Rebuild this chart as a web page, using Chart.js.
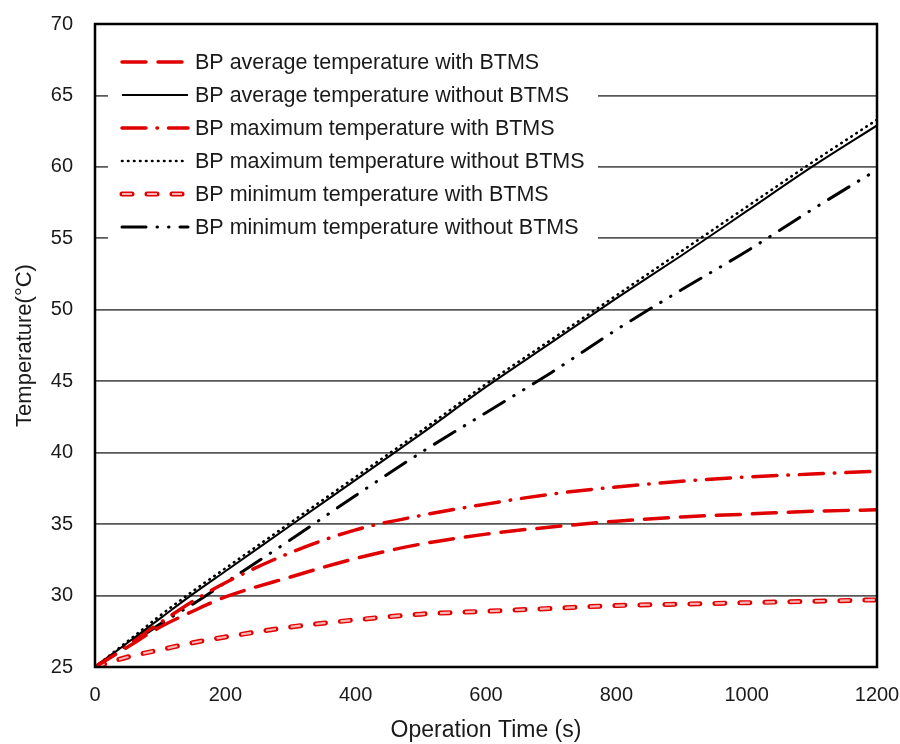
<!DOCTYPE html>
<html>
<head>
<meta charset="utf-8">
<title>Battery pack temperature</title>
<script src="https://cdn.jsdelivr.net/npm/chart.js@4.4.1/dist/chart.umd.min.js"></script>
<style>
  body { margin: 0; background: #fff; }
  #wrap { width: 900px; height: 744px; position: relative; }
</style>
</head>
<body>
<div id="wrap"><canvas id="tempChart"></canvas></div>
<script>
// operation time (s)
let times = [0, 50, 100, 150, 200, 300, 400, 500, 600, 700, 800, 900, 1000, 1100, 1200];

// temperatures (°C)
let avgWithBtms     = [25, 26.4, 27.8, 28.9, 29.9, 31.3, 32.6, 33.6, 34.3, 34.8, 35.2, 35.5, 35.7, 35.9, 36.0];
let avgWithoutBtms  = [25, 26.7, 28.4, 30.1, 31.7, 34.9, 38.1, 41.3, 44.6, 47.7, 50.8, 53.8, 56.9, 60.0, 62.9];
let maxWithBtms     = [25, 26.6, 28.1, 29.6, 30.9, 33.0, 34.6, 35.6, 36.4, 37.1, 37.6, 38.0, 38.3, 38.5, 38.7];
let maxWithoutBtms  = [25, 26.8, 28.6, 30.3, 31.9, 35.1, 38.3, 41.5, 44.8, 47.9, 51.0, 54.1, 57.2, 60.3, 63.3];
let minWithBtms     = [25, 25.7, 26.2, 26.7, 27.1, 27.8, 28.3, 28.7, 28.9, 29.1, 29.3, 29.4, 29.5, 29.6, 29.7];
let minWithoutBtms  = [25, 26.5, 28.0, 29.4, 30.9, 33.9, 37.0, 40.0, 42.8, 45.6, 48.6, 51.4, 54.1, 57.0, 59.8];

let seriesLabels = [
    "BP average temperature with BTMS",
    "BP average temperature without BTMS",
    "BP maximum temperature with BTMS",
    "BP maximum temperature without BTMS",
    "BP minimum temperature with BTMS",
    "BP minimum temperature without BTMS"
];

let xTicks = [0, 200, 400, 600, 800, 1000, 1200];
let yTicks = [25, 30, 35, 40, 45, 50, 55, 60, 65, 70];

const RED = "#e00000";
const PINK = "#f9b3b3";

function points(values) {
    return times.map((t, i) => ({ x: t, y: values[i] }));
}

// line styles, shared by the datasets and the legend
let styles = [
    { color: RED, width: 3.5, dash: [24, 12], cap: "round" },
    { color: "#000", width: 2, dash: [], cap: "butt" },
    { color: RED, width: 3.5, dash: [24, 11, 0.5, 11], cap: "round" },
    { color: "#000", width: 2.6, dash: [0.5, 5.5], cap: "round" },
    { color: RED, width: 5, dash: [10, 15], cap: "round", inner: PINK },
    { color: "#000", width: 3, dash: [24, 11, 0.5, 11, 0.5, 11], cap: "round" }
];
let seriesValues = [avgWithBtms, avgWithoutBtms, maxWithBtms, maxWithoutBtms, minWithBtms, minWithoutBtms];

function lineDataset(values, st, label) {
    return {
        label: label,
        data: points(values),
        borderColor: st.color,
        borderWidth: st.width,
        borderDash: st.dash,
        borderCapStyle: st.cap,
        pointRadius: 0,
        fill: false,
        cubicInterpolationMode: "monotone"
    };
}

let datasets = [];
seriesValues.forEach((values, i) => {
    let st = styles[i];
    if (st.inner) {
        // hollow dashes: pale core drawn over the red outline
        datasets.push(lineDataset(values, { color: st.inner, width: 2.2, dash: st.dash, cap: "butt" }, seriesLabels[i] + " core"));
    }
    datasets.push(lineDataset(values, st, seriesLabels[i]));
});

// frame around the plot area
const framePlugin = {
    id: "frame",
    afterDatasetsDraw(chart) {
        let a = chart.chartArea;
        let ctx = chart.ctx;
        ctx.save();
        ctx.strokeStyle = "#000";
        ctx.lineWidth = 2.5;
        ctx.strokeRect(a.left, a.top, a.right - a.left, a.bottom - a.top);
        ctx.restore();
    }
};

// legend box drawn inside the plot
const legendPlugin = {
    id: "insideLegend",
    afterDatasetsDraw(chart) {
        let ctx = chart.ctx;
        ctx.save();
        ctx.fillStyle = "#fff";
        ctx.fillRect(108, 30, 490, 218);
        let x0 = 122, x1 = 188, y = 62;
        ctx.font = "21.5px 'Liberation Sans', Arial, sans-serif";
        ctx.textBaseline = "middle";
        seriesLabels.forEach((label, i) => {
            let st = styles[i];
            ctx.beginPath();
            ctx.setLineDash(st.dash);
            ctx.lineCap = st.cap;
            ctx.strokeStyle = st.color;
            ctx.lineWidth = st.width;
            ctx.moveTo(x0, y);
            ctx.lineTo(x1, y);
            ctx.stroke();
            if (st.inner) {
                ctx.beginPath();
                ctx.lineCap = "butt";
                ctx.strokeStyle = st.inner;
                ctx.lineWidth = 2.2;
                ctx.moveTo(x0, y);
                ctx.lineTo(x1, y);
                ctx.stroke();
            }
            ctx.setLineDash([]);
            ctx.fillStyle = "#1a1a1a";
            ctx.fillText(label, 195, y + 1);
            y += 33;
        });
        ctx.restore();
    }
};

let ctx = document.getElementById("tempChart").getContext("2d");
new Chart(ctx, {
    type: "line",
    data: { datasets: datasets },
    options: {
        responsive: true,
        maintainAspectRatio: false,
        animation: false,
        layout: { padding: { top: 24, right: 23, bottom: 0, left: 0 } },
        plugins: {
            legend: { display: false },
            tooltip: { enabled: false }
        },
        scales: {
            x: {
                type: "linear",
                min: 0,
                max: 1200,
                afterBuildTicks: scale => { scale.ticks = xTicks.map(v => ({ value: v })); },
                afterFit: scale => {
                    scale.height = 77;
                    scale.paddingLeft = 0;
                    scale.paddingRight = 0;
                },
                grid: { display: false, drawTicks: false },
                border: { display: false },
                ticks: {
                    color: "#1a1a1a",
                    padding: 16,
                    maxRotation: 0,
                    callback: v => String(v),
                    font: { family: "'Liberation Sans', Arial, sans-serif", size: 20 }
                },
                title: {
                    display: true,
                    text: "Operation Time (s)",
                    color: "#1a1a1a",
                    padding: { top: 0, bottom: 0 },
                    font: { family: "'Liberation Sans', Arial, sans-serif", size: 23 }
                }
            },
            y: {
                min: 25,
                max: 70,
                afterBuildTicks: scale => { scale.ticks = yTicks.map(v => ({ value: v })); },
                afterFit: scale => {
                    scale.width = 95;
                    scale.paddingTop = 0;
                    scale.paddingBottom = 0;
                },
                grid: { color: "#595959", lineWidth: 1.7, drawTicks: false },
                border: { display: false },
                ticks: {
                    color: "#1a1a1a",
                    padding: 22,
                    font: { family: "'Liberation Sans', Arial, sans-serif", size: 20 }
                },
                title: {
                    display: true,
                    text: "Temperature(°C)",
                    color: "#1a1a1a",
                    padding: { top: 12, bottom: 0 },
                    font: { family: "'Liberation Sans', Arial, sans-serif", size: 22 }
                }
            }
        }
    },
    plugins: [framePlugin, legendPlugin]
});
</script>
</body>
</html>
